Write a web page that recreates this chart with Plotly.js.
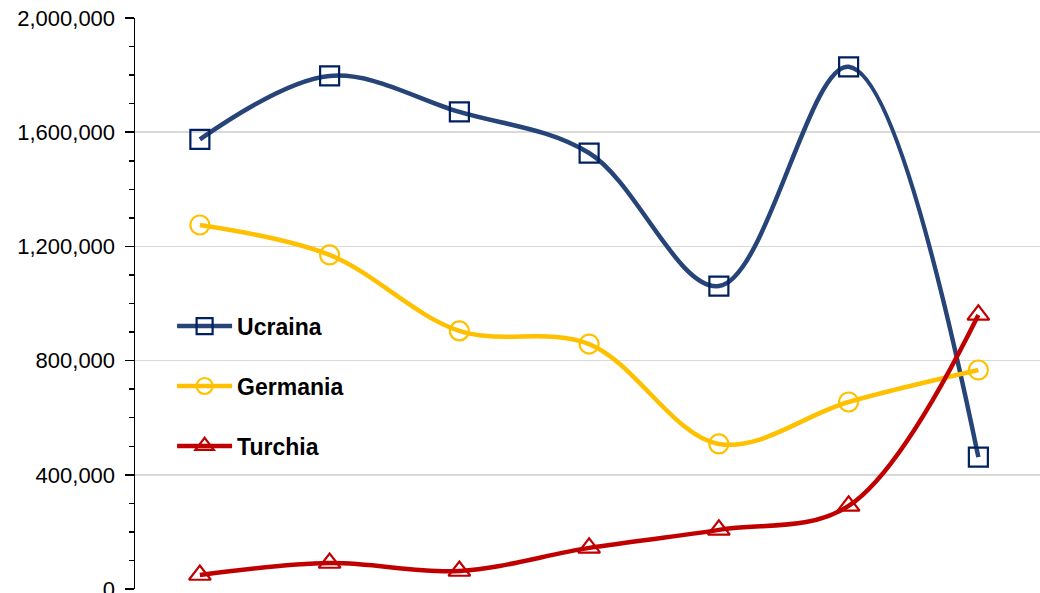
<!DOCTYPE html>
<html>
<head>
<meta charset="utf-8">
<script src="https://cdn.plot.ly/plotly-3.0.1.min.js"></script>
<style>
html,body{margin:0;padding:0;overflow:hidden;background:#fff;}
#chart{width:1040px;height:640px;}
</style>
</head>
<body>
<div id="chart"></div>
<script>
const categories = ['2016', '2017', '2018', '2019', '2020', '2021', '2022'];
const ucraina  = [1575000, 1797000, 1671000, 1527000, 1061000, 1829000, 462000];
const germania = [1275000, 1170000, 904000, 858000, 508000, 655000, 767000];
const turchia  = [49000, 91000, 63000, 144000, 207000, 291000, 960000];
const yTickVals = [0, 400000, 800000, 1200000, 1600000, 2000000];
const yTickText = ['0', '400,000', '800,000', '1,200,000', '1,600,000', '2,000,000'];

function series(name, y, color, mcolor, symbol, group) {
  return {
    type: 'scatter', mode: 'lines+markers', name: name, x: categories, y: y,
    legendgroup: group,
    line: {color: color, width: 4.5, shape: 'spline', smoothing: 1},
    marker: {symbol: symbol, size: 19, color: mcolor, line: {color: mcolor, width: 2.2}}
  };
}

const traces = [
  series('Ucraina', ucraina, '#264478', '#002060', 'square-open', 'a'),
  series('Germania', germania, '#FFC000', '#FFC000', 'circle-open', 'b'),
  series('Turchia', turchia, '#C00000', '#C00000', 'triangle-up-open', 'c')
];

const layout = {
  width: 1040, height: 640,
  margin: {l: 135, r: 0, t: 18, b: 51},
  paper_bgcolor: '#fff', plot_bgcolor: '#fff',
  font: {family: 'Liberation Sans, Arial, sans-serif', color: '#000'},
  showlegend: true,
  legend: {
    x: 0.041, y: 0.498, xanchor: 'left', yanchor: 'top',
    bgcolor: 'rgba(255,255,255,0)', borderwidth: 0,
    itemwidth: 55,
    traceorder: 'grouped', tracegroupgap: 27,
    font: {family: 'Liberation Sans, Arial, sans-serif', size: 23, color: '#000', weight: 'bold'}
  },
  shapes: [{
    type: 'rect', xref: 'paper', yref: 'paper', layer: 'between',
    x0: 0.022, x1: 0.247, y0: 0.17, y1: 0.52,
    fillcolor: '#fff', line: {width: 0}
  }],
  xaxis: {
    type: 'category', range: [-0.5, 6.475],
    showgrid: false, zeroline: false, showline: false,
    ticks: '', showticklabels: false
  },
  yaxis: {
    range: [0, 2000000], tickvals: yTickVals, ticktext: yTickText,
    showgrid: true, gridcolor: '#d9d9d9', gridwidth: 1.5,
    zeroline: false, showline: true, linecolor: '#000', linewidth: 1.5,
    ticks: 'outside', ticklen: 9, tickwidth: 1.5, tickcolor: '#000',
    ticklabelstandoff: 5, ticklabeloverflow: 'allow',
    tickfont: {size: 22, color: '#000'},
    minor: {dtick: 100000, ticks: 'outside', ticklen: 5, tickwidth: 1.5, tickcolor: '#000', showgrid: false}
  }
};

Plotly.newPlot('chart', traces, layout, {displayModeBar: false, staticPlot: true});
</script>
</body>
</html>
